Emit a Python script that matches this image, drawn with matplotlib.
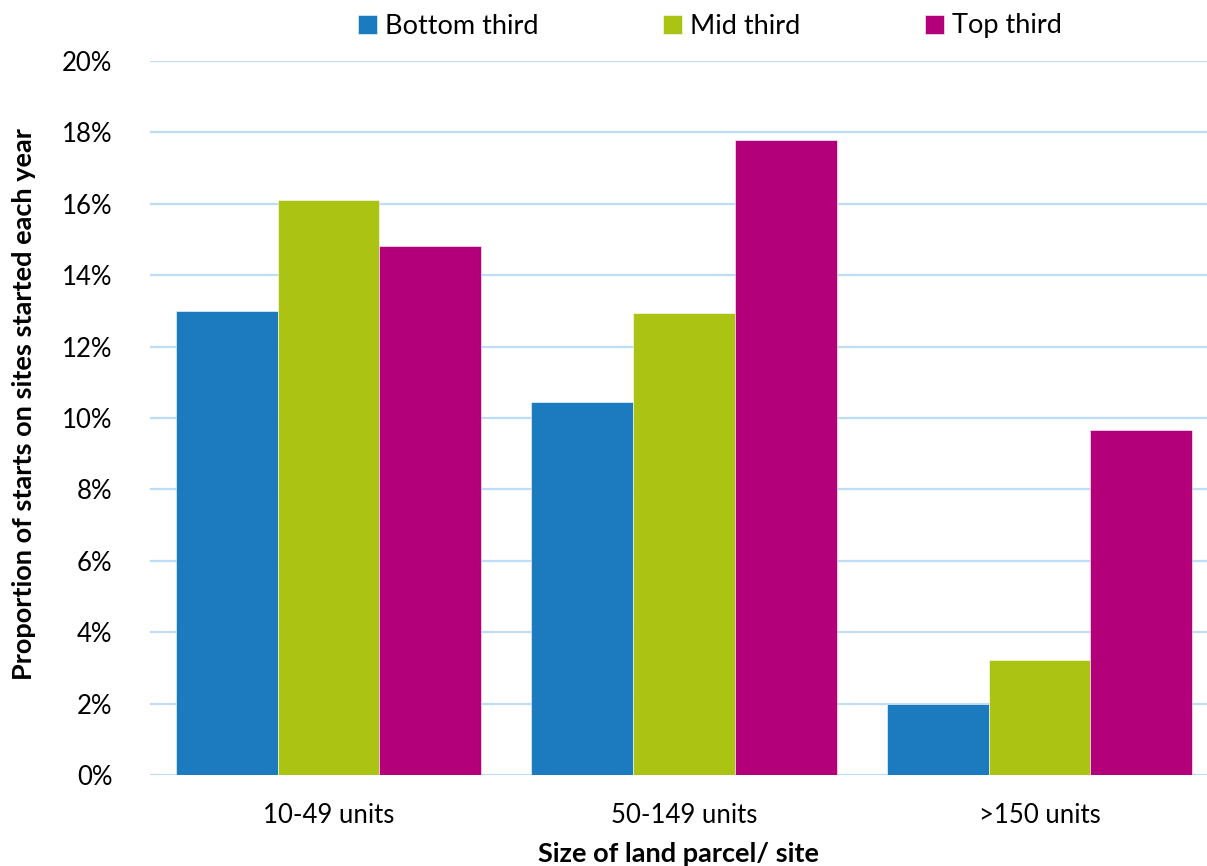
import matplotlib
matplotlib.use("Agg")
import matplotlib.pyplot as plt
import numpy as np
from matplotlib.ticker import FuncFormatter, MultipleLocator

categories = ["10-49 units", "50-149 units", ">150 units"]
series_names = ["Bottom third", "Mid third", "Top third"]
bottom_third = [13.0, 10.45, 2.0]
mid_third = [16.1, 12.95, 3.22]
top_third = [14.82, 17.78, 9.65]
colors = ["#1B7BBE", "#ABC312", "#B3007A"]

plt.rcParams["font.family"] = ["Lato", "DejaVu Sans"]

fig = plt.figure(figsize=(12.07, 8.66), dpi=100)
ax = fig.add_axes([150 / 1207, 1 - 775 / 866, 1 - 150 / 1207, (775 - 61) / 866])

x = np.arange(len(categories))
w = 0.286
handles = []
for i, (vals, name, c) in enumerate(zip([bottom_third, mid_third, top_third], series_names, colors)):
    h = ax.bar(x + (i - 1) * w, vals, width=w, color=c, label=name,
               edgecolor="white", linewidth=0.4, zorder=3)
    handles.append(h)

ax.set_ylim(0, 20)
ax.set_xlim(-0.502, 2.471)
ax.yaxis.set_major_locator(MultipleLocator(2))
ax.yaxis.set_major_formatter(FuncFormatter(lambda v, p: f"{v:.0f}%"))
ax.grid(axis="y", color="#BFDCF7", linewidth=1.6, zorder=0)
ax.set_axisbelow(True)
for s in ax.spines.values():
    s.set_visible(False)
ax.tick_params(axis="both", length=0, labelsize=18.5, colors="#000000")
ax.tick_params(axis="y", pad=27)
ax.tick_params(axis="x", pad=20)
ax.set_xticks(x)
ax.set_xticklabels(categories)

ax.set_ylabel("Proportion of starts on sites started each year", fontsize=19.5,
              fontweight="bold", color="#000000")
ax.yaxis.set_label_coords(-0.108, 0.52)
ax.set_xlabel("Size of land parcel/ site", fontsize=19.5, fontweight="bold",
              labelpad=10, color="#000000")

fig.legend(handles=handles, labels=series_names, loc="center",
           bbox_to_anchor=(710 / 1207, 1 - 26 / 866), ncol=3, frameon=False,
           fontsize=19.5, handlelength=0.7, handleheight=0.7, handletextpad=0.3,
           columnspacing=4.6, borderaxespad=0, labelcolor="#000000")

fig.savefig("out.png", dpi=100)
